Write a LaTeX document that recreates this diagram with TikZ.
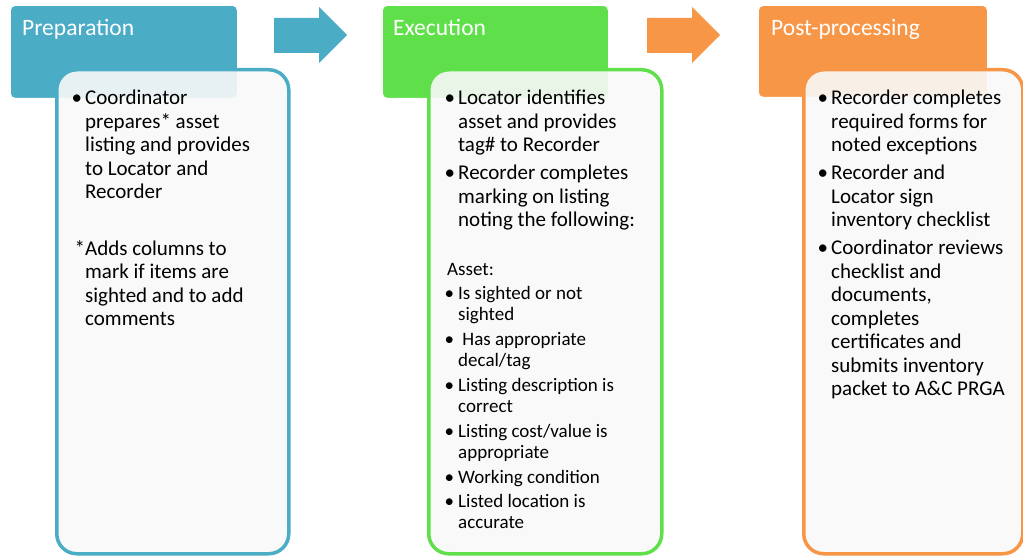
\documentclass[tikz,border=0pt]{standalone}
\usepackage{fontspec}
\setmainfont{Carlito}
\definecolor{cblue}{HTML}{4BACC6}
\definecolor{cgreen}{HTML}{5FE04B}
\definecolor{corange}{HTML}{F79646}
\definecolor{bodyfill}{HTML}{F9F9F9}
\newcommand\mybul{\llap{•\hskip3pt}}
\newcommand\mysbul{\llap{•\hskip4pt}}
\tikzset{
  headbox/.style={fill=#1, draw=white, line width=0.8pt, rounded corners=5pt,
    anchor=north west, inner sep=0pt},
  bodybox/.style={draw=#1, fill=bodyfill, fill opacity=0.9, draw opacity=1,
    line width=3.5pt, rounded corners=20pt, anchor=north west, inner sep=0pt},
  htext/.style={anchor=base west, inner sep=0pt, text=white,
    font=\fontsize{23.5}{28}\selectfont},
  btext/.style={anchor=base west, inner sep=0pt, text=black,
    font=\fontsize{21}{24}\selectfont},
  stext/.style={anchor=base west, inner sep=0pt, text=black,
    font=\fontsize{19}{21}\selectfont},
  blockarrow/.style={fill=#1, draw=none}
}
\begin{document}
\begin{tikzpicture}[x=1pt,y=-1pt]
\useasboundingbox (0,0) rectangle (1023,556);
\fill[white] (0,0) rectangle (1023,556);

% headers
\node[headbox=cblue, minimum width=227pt, minimum height=93pt] (h1) at (10,5) {};
\node[headbox=cgreen, minimum width=226pt, minimum height=93pt] (h2) at (382,5) {};
\node[headbox=corange, minimum width=229pt, minimum height=92pt] (h3) at (758,5) {};

% block arrows
\fill[blockarrow=cblue] (274,18) -- (319,18) -- (319,7) -- (347,35) -- (319,63) -- (319,53) -- (274,53) -- cycle;
\fill[blockarrow=corange] (647,18) -- (692,18) -- (692,7) -- (720,35) -- (692,63) -- (692,53) -- (647,53) -- cycle;

% bodies
\node[bodybox=cblue, minimum width=232pt, minimum height=484pt] (b1) at (55,68) {};
\node[bodybox=cgreen, minimum width=233pt, minimum height=484pt] (b2) at (427,68) {};
\node[bodybox=corange, minimum width=219pt, minimum height=484pt] (b3) at (802,68) {};

% titles
\node[htext] (t1) at (22,36) {Preparation};
\node[htext] (t2) at (393,36) {Execution};
\node[htext] (t3) at (771,36) {Post-processing};

% Preparation text
\node[btext] (p1) at (85,105) {\vtop{\baselineskip=23.4pt
  \hbox{\mybul Coordinator}
  \hbox{prepares* asset}
  \hbox{listing and provides}
  \hbox{to Locator and}
  \hbox{Recorder}
  \vskip 33.5pt
  \hbox{\llap{*}Adds columns to}
  \hbox{mark if items are}
  \hbox{sighted and to add}
  \hbox{comments}}};

% Execution text
\node[btext] (e1) at (458,105) {\vtop{\baselineskip=23.5pt
  \hbox{\mybul Locator identifies}
  \hbox{asset and provides}
  \hbox{tag\# to Recorder}
  \vskip 4.5pt
  \hbox{\mybul Recorder completes}
  \hbox{marking on listing}
  \hbox{noting the following:}}};

\node[stext] (e2) at (458,276) {\vtop{\baselineskip=21pt
  \hbox{\hskip-11pt Asset:}
  \vskip 3pt
  \hbox{\mysbul Is sighted or not}
  \hbox{sighted}
  \vskip 3.8pt
  \hbox{\mysbul \ Has appropriate}
  \hbox{decal/tag}
  \vskip 3.8pt
  \hbox{\mysbul Listing description is}
  \hbox{correct}
  \vskip 3.8pt
  \hbox{\mysbul Listing cost/value is}
  \hbox{appropriate}
  \vskip 3.8pt
  \hbox{\mysbul Working condition}
  \vskip 3.8pt
  \hbox{\mysbul Listed location is}
  \hbox{accurate}}};

% Post-processing text
\node[btext] (q1) at (831,105) {\vtop{\baselineskip=23.5pt
  \hbox{\mybul Recorder completes}
  \hbox{required forms for}
  \hbox{noted exceptions}
  \vskip 4.5pt
  \hbox{\mybul Recorder and}
  \hbox{Locator sign}
  \hbox{inventory checklist}
  \vskip 4.5pt
  \hbox{\mybul Coordinator reviews}
  \hbox{checklist and}
  \hbox{documents,}
  \hbox{completes}
  \hbox{certificates and}
  \hbox{submits inventory}
  \hbox{packet to A\&C PRGA}}};
\end{tikzpicture}
\end{document}
